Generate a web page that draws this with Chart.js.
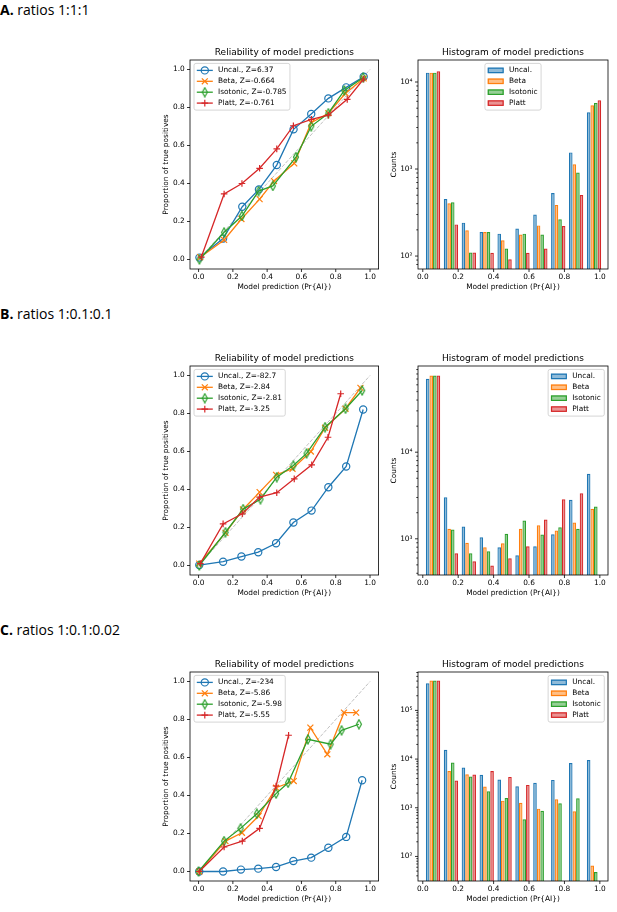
<!DOCTYPE html>
<html>
<head>
<meta charset="utf-8">
<script src="https://cdn.jsdelivr.net/npm/chart.js@4.4.1/dist/chart.umd.min.js"></script>
<style>
  body { margin: 0; background: #fff; }
  #page { position: relative; width: 617px; height: 912px; overflow: hidden; background: #fff; }
  .hd { position: absolute; left: 0; font-family: "Open Sans", sans-serif; font-size: 14px; line-height: 14px; color: #000; white-space: nowrap; }
  .hd b { font-weight: 700; }
  canvas { position: absolute; }
</style>
</head>
<body>
<div id="page">
  <div class="hd" style="top:2.6px"><b>A.</b> ratios 1:1:1</div>
  <div class="hd" style="top:306.9px"><b>B.</b> ratios 1:0.1:0.1</div>
  <div class="hd" style="top:622.6px"><b>C.</b> ratios 1:0.1:0.02</div>
</div>
<script>
// series shared by all panels
const names = ['Uncal.', 'Beta', 'Isotonic', 'Platt'];
const colors = ['#1f77b4', '#ff7f0e', '#2ca02c', '#d62728'];
const fills = ['rgba(31,119,180,0.5)', 'rgba(255,127,14,0.5)', 'rgba(44,160,44,0.5)', 'rgba(214,39,40,0.5)'];
const unitTicks = [0, 0.2, 0.4, 0.6, 0.8, 1.0];
const diagonal = [0, 1];

// A. ratios 1:1:1 - reliability
const aZ = ['6.37', '-0.664', '-0.785', '-0.761'];
const aUncalX = [0.005, 0.143, 0.255, 0.352, 0.456, 0.554, 0.657, 0.757, 0.861, 0.963];
const aUncalY = [0.01, 0.11, 0.278, 0.369, 0.497, 0.685, 0.766, 0.848, 0.906, 0.962];
const aBetaX = [0.01, 0.149, 0.25, 0.356, 0.44, 0.558, 0.657, 0.757, 0.857, 0.963];
const aBetaY = [0.012, 0.103, 0.213, 0.318, 0.413, 0.506, 0.72, 0.77, 0.875, 0.953];
const aIsoX = [0.005, 0.149, 0.253, 0.35, 0.433, 0.568, 0.657, 0.757, 0.85, 0.96];
const aIsoY = [0.0, 0.143, 0.229, 0.36, 0.387, 0.539, 0.701, 0.77, 0.89, 0.957];
const aPlattX = [0.016, 0.149, 0.253, 0.356, 0.456, 0.553, 0.658, 0.757, 0.867, 0.963];
const aPlattY = [0.013, 0.345, 0.40, 0.48, 0.582, 0.704, 0.738, 0.76, 0.843, 0.95];

// B. ratios 1:0.1:0.1 - reliability
const bZ = ['-82.7', '-2.84', '-2.81', '-3.25'];
const bUncalX = [0.004, 0.143, 0.25, 0.348, 0.452, 0.553, 0.659, 0.757, 0.861, 0.96];
const bUncalY = [0.002, 0.02, 0.047, 0.07, 0.117, 0.226, 0.289, 0.412, 0.521, 0.821];
const bBetaX = [0.004, 0.157, 0.259, 0.356, 0.452, 0.548, 0.655, 0.738, 0.857, 0.944];
const bBetaY = [0.01, 0.172, 0.295, 0.386, 0.477, 0.509, 0.60, 0.725, 0.825, 0.935];
const bIsoX = [0.004, 0.157, 0.26, 0.361, 0.456, 0.553, 0.63, 0.738, 0.857, 0.954];
const bIsoY = [0.0, 0.175, 0.297, 0.349, 0.465, 0.526, 0.59, 0.728, 0.825, 0.921];
const bPlattX = [0.01, 0.143, 0.255, 0.356, 0.456, 0.558, 0.66, 0.755, 0.829];
const bPlattY = [0.01, 0.219, 0.272, 0.36, 0.383, 0.456, 0.53, 0.675, 0.904];

// C. ratios 1:0.1:0.02 - reliability
const cZ = ['-234', '-5.86', '-5.98', '-5.55'];
const cUncalX = [0.004, 0.143, 0.247, 0.348, 0.452, 0.553, 0.657, 0.757, 0.861, 0.954];
const cUncalY = [0.0, 0.0, 0.01, 0.015, 0.024, 0.055, 0.073, 0.125, 0.182, 0.48];
const cBetaX = [0.004, 0.157, 0.253, 0.35, 0.452, 0.555, 0.652, 0.751, 0.848, 0.919];
const cBetaY = [0.0, 0.16, 0.204, 0.292, 0.441, 0.476, 0.757, 0.617, 0.836, 0.836];
const cIsoX = [0.0, 0.149, 0.245, 0.34, 0.452, 0.522, 0.638, 0.77, 0.834, 0.935];
const cIsoY = [0.0, 0.16, 0.227, 0.304, 0.41, 0.467, 0.696, 0.67, 0.743, 0.775];
const cPlattX = [0.004, 0.149, 0.255, 0.356, 0.452, 0.525];
const cPlattY = [0.0, 0.129, 0.16, 0.227, 0.45, 0.717];

// histograms: bin centres and counts
const binCenters = [0.058, 0.159, 0.26, 0.361, 0.462, 0.563, 0.664, 0.765, 0.866, 0.967];
const aHistUncal = [12800, 453, 242, 189, 181, 207, 300, 531, 1553, 4500];
const aHistBeta = [12800, 404, 198, 189, 152, 177, 225, 387, 1134, 5400];
const aHistIso = [12800, 415, 110, 189, 122, 181, 177, 264, 911, 5750];
const aHistPlatt = [13300, 231, 110, 109, 92, 109, 122, 221, 504, 6160];
const bHistUncal = [70500, 3020, 1388, 1043, 800, 647, 822, 1130, 2820, 5630];
const bHistBeta = [76900, 1304, 900, 800, 890, 1304, 1436, 1247, 1541, 2220];
const bHistIso = [76900, 1280, 682, 719, 1142, 1625, 1122, 1360, 1304, 2360];
const bHistPlatt = [76900, 682, 551, 492, 597, 822, 1670, 2860, 3360, null];
const cHistUncal = [362000, 15600, 6710, 4740, 3800, 2770, 3250, 3740, 8280, 9530];
const cHistBeta = [411000, 5660, 4890, 2720, 1400, 1270, 958, 1496, 847, 65];
const cHistIso = [411000, 8510, 4380, 2190, 1590, 579, 871, 1240, 1570, 48];
const cHistPlatt = [411000, 3620, 4820, 5660, 4310, 2950, null, null, null, null];
const aCountRange = [71, 17900];
const bCountRange = [382, 98900];
const cCountRange = [31.3, 615000];

Chart.defaults.font.family = '"DejaVu Sans", sans-serif';
Chart.defaults.font.size = 7.4;
Chart.defaults.color = '#000';

const SUP = { 1: '\u00b9', 2: '\u00b2', 3: '\u00b3', 4: '\u2074', 5: '\u2075', 6: '\u2076' };

function thinDiamond(color) {
  const c = document.createElement('canvas');
  c.width = 8; c.height = 11;
  const g = c.getContext('2d');
  g.strokeStyle = color; g.lineWidth = 1.2;
  g.beginPath();
  g.moveTo(4, 1); g.lineTo(6.5, 5.5); g.lineTo(4, 10); g.lineTo(1.5, 5.5);
  g.closePath(); g.stroke();
  return c;
}
const markers = ['circle', 'crossRot', thinDiamond(colors[2]), 'cross'];
const markerRadius = [3.6, 4.2, 4, 3.3];

// spines + outward ticks like matplotlib
const mplAxes = {
  id: 'mplAxes',
  afterDatasetsDraw(chart) {
    const { ctx, chartArea: a, scales } = chart;
    ctx.save();
    ctx.strokeStyle = '#000';
    ctx.lineWidth = 0.8;
    ctx.beginPath();
    scales.x.ticks.forEach(t => {
      const px = scales.x.getPixelForValue(t.value);
      ctx.moveTo(px, a.bottom); ctx.lineTo(px, a.bottom + 3);
    });
    scales.y.ticks.forEach(t => {
      const py = scales.y.getPixelForValue(t.value);
      ctx.moveTo(a.left, py); ctx.lineTo(a.left - (t.minor ? 1.7 : 3), py);
    });
    ctx.stroke();
    ctx.strokeRect(a.left, a.top, a.right - a.left, a.bottom - a.top);
    ctx.restore();
  }
};

function drawMarker(ctx, style, r, x, y) {
  if (style instanceof HTMLCanvasElement) {
    ctx.drawImage(style, x - style.width / 2, y - style.height / 2);
    return;
  }
  ctx.beginPath();
  if (style === 'circle') {
    ctx.arc(x, y, r, 0, Math.PI * 2);
  } else {
    const d = style === 'crossRot' ? r * Math.SQRT1_2 : r;
    if (style === 'crossRot') {
      ctx.moveTo(x - d, y - d); ctx.lineTo(x + d, y + d);
      ctx.moveTo(x + d, y - d); ctx.lineTo(x - d, y + d);
    } else {
      ctx.moveTo(x - d, y); ctx.lineTo(x + d, y);
      ctx.moveTo(x, y - d); ctx.lineTo(x, y + d);
    }
  }
  ctx.stroke();
}

function roundRectPath(ctx, x, y, w, h, r) {
  ctx.beginPath();
  ctx.moveTo(x + r, y);
  ctx.lineTo(x + w - r, y); ctx.arcTo(x + w, y, x + w, y + r, r);
  ctx.lineTo(x + w, y + h - r); ctx.arcTo(x + w, y + h, x + w - r, y + h, r);
  ctx.lineTo(x + r, y + h); ctx.arcTo(x, y + h, x, y + h - r, r);
  ctx.lineTo(x, y + r); ctx.arcTo(x, y, x + r, y, r);
  ctx.closePath();
}

// legend drawn inside the axes, matplotlib style
const mplLegend = {
  id: 'mplLegend',
  afterDraw(chart, args, opts) {
    if (!opts || !opts.loc) return;
    const ctx = chart.ctx, a = chart.chartArea;
    const items = chart.data.datasets.filter(d => d.label);
    ctx.save();
    ctx.font = '7.4px "DejaVu Sans", sans-serif';
    const tw = Math.max(...items.map(d => ctx.measureText(d.label).width));
    const pad = 2.8, hl = 16, gap = 5.2, row = 10.9, edge = 7;
    const w = pad + hl + gap + tw + pad + 0.6;
    const h = edge * 2 + row * (items.length - 1);
    let x0;
    if (opts.loc === 'upper left') x0 = a.left + 4;
    else if (opts.loc === 'upper right') x0 = a.right - 3.7 - w;
    else x0 = (a.left + a.right) / 2 - w / 2;
    const y0 = a.top + 3.4;
    roundRectPath(ctx, x0, y0, w, h, 2);
    ctx.fillStyle = 'rgba(255,255,255,0.8)';
    ctx.fill();
    ctx.strokeStyle = '#cccccc';
    ctx.lineWidth = 0.8;
    ctx.stroke();
    items.forEach((d, i) => {
      const cy = y0 + edge + i * row;
      const hx = x0 + pad;
      if (opts.kind === 'patch') {
        ctx.fillStyle = d.backgroundColor;
        ctx.fillRect(hx, cy - 2.8, hl, 5.6);
        ctx.strokeStyle = d.borderColor;
        ctx.lineWidth = 1.2;
        ctx.strokeRect(hx + 0.6, cy - 2.2, hl - 1.2, 4.4);
      } else {
        ctx.strokeStyle = d.borderColor;
        ctx.lineWidth = 1.3;
        ctx.beginPath(); ctx.moveTo(hx, cy); ctx.lineTo(hx + hl, cy); ctx.stroke();
        ctx.lineWidth = 1.2;
        drawMarker(ctx, d.pointStyle, d.pointRadius, hx + hl / 2, cy);
      }
      ctx.fillStyle = '#000';
      ctx.textBaseline = 'middle';
      ctx.textAlign = 'left';
      ctx.fillText(d.label, hx + hl + gap, cy);
    });
    ctx.restore();
  }
};

Chart.register(mplAxes, mplLegend);

function addCanvas(left, top, w, h) {
  const c = document.createElement('canvas');
  c.width = w; c.height = h;
  c.style.left = left + 'px'; c.style.top = top + 'px';
  c.style.width = w + 'px'; c.style.height = h + 'px';
  document.getElementById('page').appendChild(c);
  return c;
}

function xAxis(min, max) {
  return {
    type: 'linear', min, max, bounds: 'data', offset: false,
    afterBuildTicks: s => { s.ticks = unitTicks.map(v => ({ value: v })); },
    afterFit: s => { s.height = 24; },
    ticks: { padding: 3.6, maxRotation: 0, autoSkip: false, callback: v => v.toFixed(1) },
    grid: { display: false, drawTicks: false, offset: false },
    border: { display: false },
    title: { display: true, text: 'Model prediction (Pr{AI})', padding: { top: 0, bottom: 1.2 } }
  };
}

function titleOpts(text) {
  return {
    display: true, text, fullSize: false, color: '#000',
    font: { size: 9, weight: 'normal' }, padding: { top: 3.3, bottom: 1.9 }
  };
}

function relChart(top, xs, ys, zs) {
  const cv = addCanvas(150, top - 16, 40 + 190 + 4, 16 + 209 + 24);
  const datasets = names.map((n, k) => ({
    label: n + ', Z=' + zs[k],
    data: xs[k].map((x, i) => ({ x, y: ys[k][i] })),
    borderColor: colors[k], borderWidth: 1.3, backgroundColor: colors[k],
    pointStyle: markers[k], pointRadius: markerRadius[k],
    pointBorderColor: colors[k], pointBackgroundColor: 'rgba(0,0,0,0)', pointBorderWidth: 1.2,
    fill: false, tension: 0, order: 3 - k
  }));
  datasets.push({
    data: diagonal.map(v => ({ x: v, y: v })),
    borderColor: 'rgba(150,150,150,0.6)', borderWidth: 1, borderDash: [3.6, 1.6],
    pointRadius: 0, fill: false, order: 9
  });
  new Chart(cv, {
    type: 'line',
    data: { datasets },
    options: {
      responsive: false, animation: false, events: [],
      layout: { padding: { left: 0, top: 0, right: 4, bottom: 0 } },
      plugins: {
        legend: { display: false }, tooltip: { enabled: false },
        title: titleOpts('Reliability of model predictions'),
        mplLegend: { loc: 'upper left', kind: 'line' }
      },
      scales: {
        x: xAxis(-0.05, 1.05),
        y: {
          type: 'linear', min: -0.05, max: 1.05, bounds: 'data',
          afterBuildTicks: s => { s.ticks = unitTicks.map(v => ({ value: v })); },
          afterFit: s => { s.width = 40; },
          ticks: { padding: 5.2, autoSkip: false, callback: v => v.toFixed(1) },
          grid: { display: false, drawTicks: false },
          border: { display: false },
          title: { display: true, text: 'Proportion of true positives', padding: { top: 11.3, bottom: 0 } }
        }
      }
    }
  });
}

function logTicks(s) {
  const ticks = [];
  for (let e = Math.floor(Math.log10(s.min)); e <= Math.ceil(Math.log10(s.max)); e++) {
    for (let m = 1; m < 10; m++) {
      const v = m * Math.pow(10, e);
      if (v >= s.min && v <= s.max) ticks.push({ value: v, major: m === 1, minor: m !== 1 });
    }
  }
  s.ticks = ticks;
}

function histChart(top, counts, range, loc) {
  const cv = addCanvas(370, top - 16, 48 + 190 + 5, 16 + 209 + 24);
  const datasets = names.map((n, k) => ({
    label: n,
    data: binCenters.map((x, i) => ({ x, y: counts[k][i] })).filter(p => p.y != null),
    backgroundColor: fills[k], borderColor: colors[k], borderWidth: 1.2,
    categoryPercentage: 0.8, barPercentage: 1.0
  }));
  new Chart(cv, {
    type: 'bar',
    data: { datasets },
    options: {
      responsive: false, animation: false, events: [],
      layout: { padding: { left: 0, top: 0, right: 5, bottom: 0 } },
      plugins: {
        legend: { display: false }, tooltip: { enabled: false },
        title: titleOpts('Histogram of model predictions'),
        mplLegend: { loc, kind: 'patch' }
      },
      scales: {
        x: xAxis(-0.027, 1.046),
        y: {
          type: 'logarithmic', min: range[0], max: range[1], bounds: 'data',
          afterBuildTicks: logTicks,
          afterFit: s => { s.width = 48; },
          ticks: {
            padding: 5.5, autoSkip: false,
            callback: (v, i, t) => t[i].major ? '10' + SUP[Math.round(Math.log10(v))] : ''
          },
          grid: { display: false, drawTicks: false },
          border: { display: false },
          title: { display: true, text: 'Counts', padding: { top: 19.5, bottom: 0 } }
        }
      }
    }
  });
}

relChart(60, [aUncalX, aBetaX, aIsoX, aPlattX], [aUncalY, aBetaY, aIsoY, aPlattY], aZ);
histChart(60, [aHistUncal, aHistBeta, aHistIso, aHistPlatt], aCountRange, 'upper center');
relChart(365.5, [bUncalX, bBetaX, bIsoX, bPlattX], [bUncalY, bBetaY, bIsoY, bPlattY], bZ);
histChart(365.5, [bHistUncal, bHistBeta, bHistIso, bHistPlatt], bCountRange, 'upper right');
relChart(671.5, [cUncalX, cBetaX, cIsoX, cPlattX], [cUncalY, cBetaY, cIsoY, cPlattY], cZ);
histChart(671.5, [cHistUncal, cHistBeta, cHistIso, cHistPlatt], cCountRange, 'upper right');
</script>
</body>
</html>
